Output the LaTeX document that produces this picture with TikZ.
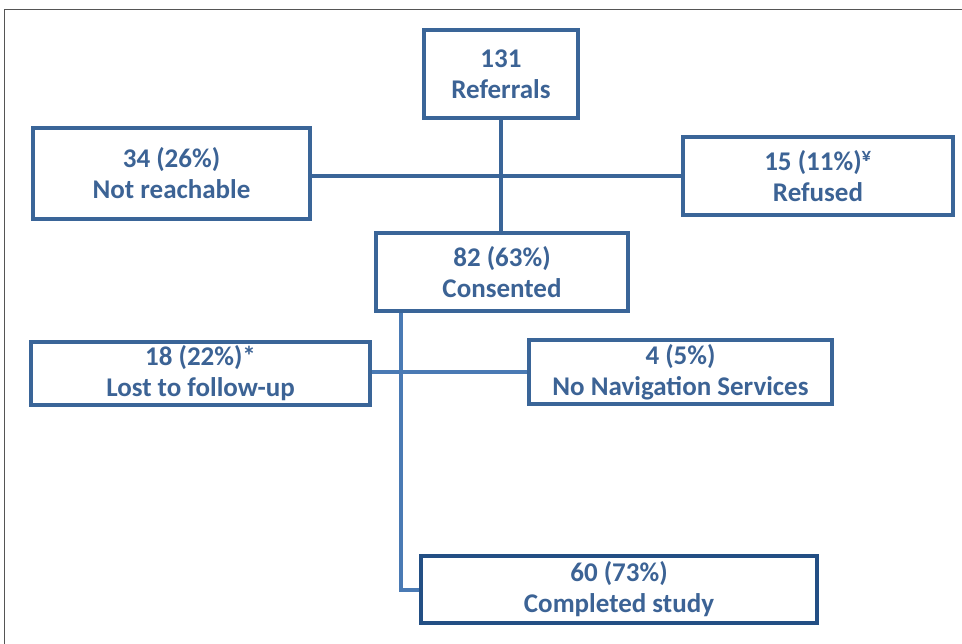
\documentclass[tikz,border=0pt]{standalone}
\usepackage{fontspec}
\setmainfont{Carlito}
\definecolor{txtblue}{HTML}{3C6395}
\definecolor{boxblue}{HTML}{3A6598}
\definecolor{lineblue}{HTML}{4A7AB4}
\definecolor{darkblue}{HTML}{234F84}
\definecolor{framegray}{HTML}{555555}
\tikzset{
  flowbox/.style={draw=boxblue, line width=4pt, rectangle, inner sep=0pt, align=center,
    text=txtblue, font=\fontsize{27}{31}\selectfont\bfseries},
  conn/.style={draw=boxblue, line width=4pt},
  lconn/.style={draw=lineblue, line width=4pt, line join=miter},
}
\begin{document}
\begin{tikzpicture}[x=1pt,y=-1pt]
\useasboundingbox (0,0) rectangle (962,644);
\draw[framegray, line width=1.5pt] (4.5,644) -- (4.5,9.5) -- (962,9.5);
\node[flowbox, minimum width=154pt, minimum height=88pt] (ref) at (501,74) {131\\Referrals};
\node[flowbox, minimum width=277pt, minimum height=91pt] (nr) at (171.5,173.5) {34 (26\%)\\Not reachable};
\node[flowbox, minimum width=270pt, minimum height=78pt] (refu) at (818,176) {15 (11\%)\textsuperscript{¥}\\Refused};
\node[flowbox, minimum width=252pt, minimum height=78pt] (cons) at (502,272) {82 (63\%)\\Consented};
\node[flowbox, minimum width=339pt, minimum height=63pt] (lost) at (200.5,373.5) {18 (22\%)*\\Lost to follow-up};
\node[flowbox, minimum width=303pt, minimum height=64pt] (nonav) at (680.5,372) {4 (5\%)\\No Navigation Services};
\node[flowbox, draw=darkblue, minimum width=396pt, minimum height=67pt] (comp) at (619,589.5) {60 (73\%)\\Completed study};
\coordinate (j1) at (501,176);
\coordinate (j2) at (401,372);
\draw[conn] (ref.south -| j1) -- (cons.north -| j1);
\draw[conn] (nr.east |- j1) -- (refu.west |- j1);
\draw[lconn] (cons.south -| j2) -- (j2 |- comp.west) -- (comp.west);
\draw[lconn] (lost.east |- j2) -- (nonav.west |- j2);
\end{tikzpicture}
\end{document}
